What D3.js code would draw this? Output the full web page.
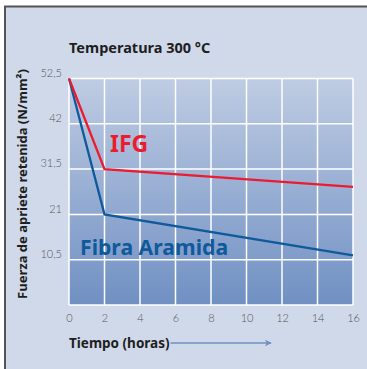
<!DOCTYPE html>
<html>
<head>
<meta charset="utf-8">
<script src="https://cdn.jsdelivr.net/npm/d3@7"></script>
<style>
  body { margin: 0; background: #fff; }
  svg { display: block; }
  .tick text { font-family: Lato, "Noto Sans", sans-serif; font-weight: 300; font-size: 11px; fill: #555; }
  .lbl { font-family: "Noto Sans", sans-serif; font-weight: 700; }
</style>
</head>
<body>
<div id="chart"></div>
<script>
const hours = [0, 2, 16];
const ifg = [52.5, 31.5, 27.4];
const aramida = [52.5, 21, 11.5];
const yTicks = [10.5, 21, 31.5, 42, 52.5];
const xTicks = [0, 2, 4, 6, 8, 10, 12, 14, 16];

const W = 367, H = 369;
const m = { left: 69, right: 353, top: 78.5, bottom: 305 };

const svg = d3.select('#chart').append('svg')
  .attr('width', W)
  .attr('height', H);

const defs = svg.append('defs');
const grad = defs.append('linearGradient')
  .attr('id', 'plotbg')
  .attr('x1', 0).attr('y1', 0).attr('x2', 0).attr('y2', 1);
grad.append('stop').attr('offset', '0%').attr('stop-color', '#bfcce3');
grad.append('stop').attr('offset', '100%').attr('stop-color', '#7090c3');

const arrowHead = defs.append('marker')
  .attr('id', 'arrow')
  .attr('viewBox', '0 0 10 10')
  .attr('refX', 9).attr('refY', 5)
  .attr('markerWidth', 7).attr('markerHeight', 7)
  .attr('markerUnits', 'userSpaceOnUse')
  .attr('orient', 'auto');
arrowHead.append('path').attr('d', 'M0,0 L10,5 L0,10 L3,5 Z').attr('fill', '#6f8fc2');

// frame
svg.append('rect')
  .attr('x', 5).attr('y', 6.5)
  .attr('width', W - 5).attr('height', H - 6.5)
  .attr('fill', '#d0d9ea');
svg.append('path')
  .attr('d', `M5,${H} V6.5 H${W}`)
  .attr('fill', 'none')
  .attr('stroke', '#555')
  .attr('stroke-width', 2);

const x = d3.scaleLinear().domain([0, 16]).range([m.left, m.right]);
const y = d3.scaleLinear().domain([0, 52.5]).range([m.bottom, m.top]);

svg.append('rect')
  .attr('x', m.left).attr('y', m.top)
  .attr('width', m.right - m.left).attr('height', m.bottom - m.top)
  .attr('fill', 'url(#plotbg)');

// grid
const grid = svg.append('g').attr('stroke', '#fff').attr('stroke-width', 1.5);
grid.selectAll('.vg').data(xTicks).join('line')
  .attr('x1', d => x(d)).attr('x2', d => x(d))
  .attr('y1', m.top).attr('y2', m.bottom);
grid.selectAll('.hg').data([0].concat(yTicks)).join('line')
  .attr('x1', m.left).attr('x2', m.right)
  .attr('y1', d => y(d)).attr('y2', d => y(d));

// axes
const xAxis = svg.append('g')
  .attr('transform', `translate(0,${m.bottom})`)
  .call(d3.axisBottom(x).tickValues(xTicks).tickSize(0).tickPadding(9));
xAxis.select('.domain').remove();

const fmt = d => String(d).replace('.', ',');
const yAxis = svg.append('g')
  .attr('transform', `translate(${m.left},0)`)
  .call(d3.axisLeft(y).tickValues(yTicks).tickFormat(fmt).tickSize(0).tickPadding(7));
yAxis.select('.domain').remove();
yAxis.selectAll('.tick text').attr('dy', '-0.2em');

// lines
const line = d3.line().x((d, i) => x(hours[i])).y(d => y(d));
svg.append('path').datum(aramida)
  .attr('d', line)
  .attr('fill', 'none')
  .attr('stroke', '#0f5a9b')
  .attr('stroke-width', 2.3);
svg.append('path').datum(ifg)
  .attr('d', line)
  .attr('fill', 'none')
  .attr('stroke', '#ec1c2e')
  .attr('stroke-width', 2.3);

// labels
svg.append('text').attr('class', 'lbl')
  .attr('x', 69).attr('y', 53)
  .attr('font-size', 14.5)
  .attr('fill', '#1e1e1e')
  .text('Temperatura 300 °C');

svg.append('text').attr('class', 'lbl')
  .attr('transform', 'translate(27,184) rotate(-90)')
  .attr('text-anchor', 'middle')
  .attr('font-size', 13)
  .attr('fill', '#1e1e1e')
  .text('Fuerza de apriete retenida (N/mm²)');

svg.append('text').attr('class', 'lbl')
  .attr('x', 110).attr('y', 152)
  .attr('font-size', 23)
  .attr('fill', '#ec1c2e')
  .text('IFG');

svg.append('text').attr('class', 'lbl')
  .attr('x', 80).attr('y', 255)
  .attr('font-size', 21.2)
  .attr('fill', '#0f5a9b')
  .text('Fibra Aramida');

const tLabel = svg.append('text').attr('class', 'lbl')
  .attr('x', 69).attr('y', 348)
  .attr('font-size', 13.5)
  .attr('fill', '#1e1e1e')
  .text('Tiempo (horas)');
const tEnd = 69 + tLabel.node().getComputedTextLength();

svg.append('line')
  .attr('x1', tEnd + 1).attr('x2', 271)
  .attr('y1', 343).attr('y2', 343)
  .attr('stroke', '#6f8fc2')
  .attr('stroke-width', 1.3)
  .attr('marker-end', 'url(#arrow)');
</script>
</body>
</html>
